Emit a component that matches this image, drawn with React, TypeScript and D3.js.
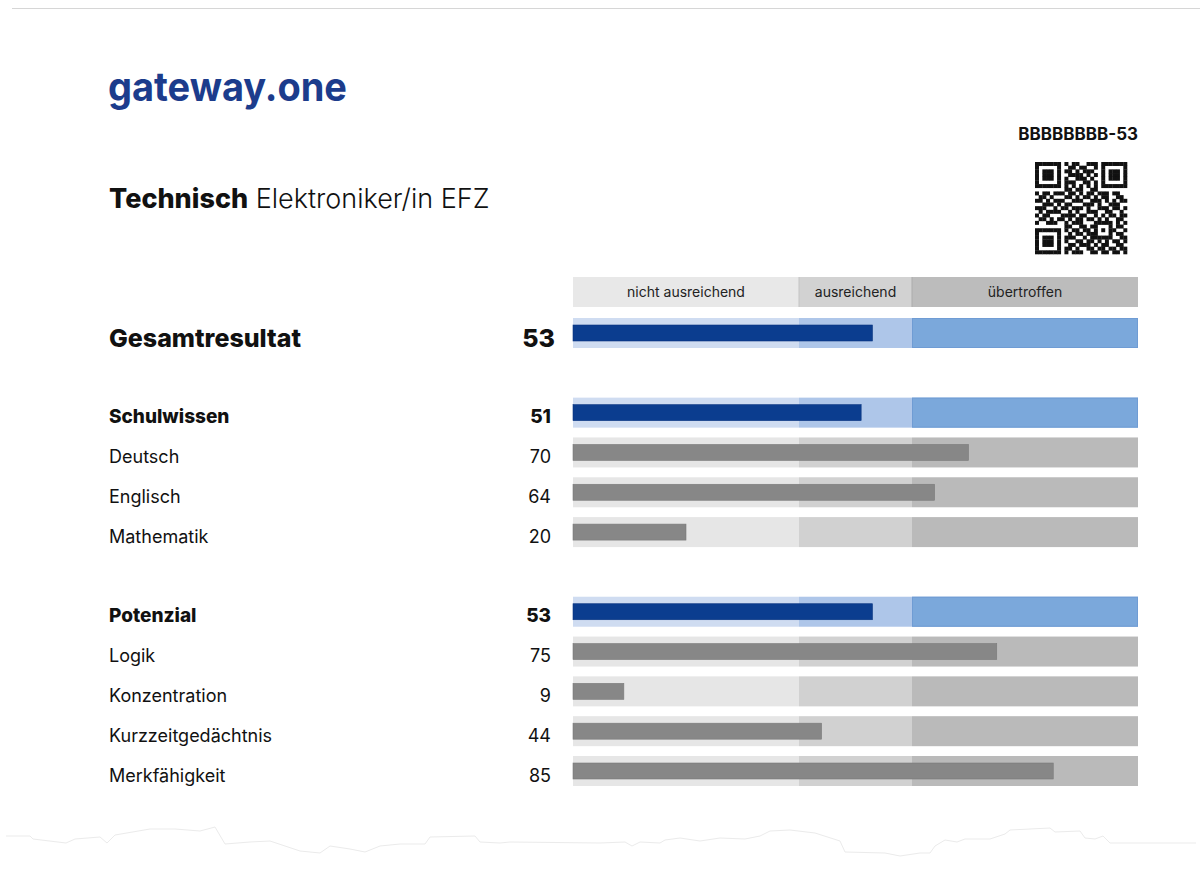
import React from "react";
import * as d3 from "d3";

const categories = ["Gesamtresultat", "Schulwissen", "Deutsch", "Englisch", "Mathematik", "Potenzial", "Logik", "Konzentration", "Kurzzeitgedächtnis", "Merkfähigkeit"];
const values = [53, 51, 70, 64, 20, 53, 75, 9, 44, 85];
const levels = ["total", "group", "item", "item", "item", "group", "item", "item", "item", "item"];
const slots = [0, 2, 3, 4, 5, 7, 8, 9, 10, 11];
const bandLabels = ["nicht ausreichend", "ausreichend", "übertroffen"];
const bandEdges = [0, 40, 60, 100];
const qrRows = [
  "1111111010110011101111111",
  "1000001001101100101000001",
  "1011101011010111001011101",
  "1011101001111010101011101",
  "1011101010011101001011101",
  "1000001011100110101000001",
  "1111111010101010101111111",
  "0000000011011001100000000",
  "1011011101101011011101100",
  "0110100011010110101100110",
  "1101011100111001110101011",
  "0011101011000111010011100",
  "1110010110111010011101101",
  "0101111001010011100110010",
  "1011000111101100101011011",
  "0110101101011011010100110",
  "1001110010111000111110101",
  "0000000011001101100010110",
  "1111111010110110101011001",
  "1000001001011011100010110",
  "1011101011100101111110011",
  "1011101010011011010101101",
  "1011101001101110101100110",
  "1000001011010011011011011",
  "1111111010111001101101101",
];
const tornX = [6, 30, 33, 66, 75, 100, 107, 115, 150, 175, 200, 215, 225, 250, 270, 300, 320, 330, 350, 365, 380, 400, 425, 430, 475, 480, 500, 510, 600, 625, 632, 640, 660, 665, 680, 700, 720, 745, 760, 770, 790, 815, 840, 845, 885, 900, 920, 930, 935, 945, 957, 965, 990, 1005, 1010, 1050, 1055, 1080, 1085, 1095, 1103, 1110, 1138, 1196];
const tornY = [836, 836, 839, 843, 839, 837, 843, 835, 829, 829, 831, 827, 844, 842, 841, 851, 853, 846, 849, 852, 846, 844, 844, 837, 836, 842, 843, 842, 843, 842, 846, 842, 843, 840, 838, 841, 838, 839, 836, 831, 830, 833, 841, 852, 853, 856, 853, 853, 846, 840, 842, 839, 839, 834, 830, 828, 832, 831, 838, 839, 836, 843, 843, 843];

const FONT = "Inter, 'Liberation Sans', sans-serif";

export default function App() {
  const x = d3.scaleLinear().domain([0, 100]).range([573, 1138]);
  const y = d3.scaleLinear().domain([0, 11]).range([318, 756]);
  const bandH = 30;
  const barH = 16;
  const greyBands = ["#e6e6e6", "#d1d1d1", "#bababa"];
  const blueBands = ["#cfdcf1", "#aec6e9", "#7ba8db"];
  const headerBands = ["#e8e8e8", "#d2d2d2", "#bcbcbc"];

  const qrX = d3.scaleLinear().domain([0, 25]).range([1035, 1127]);
  const qrY = d3.scaleLinear().domain([0, 25]).range([162, 254]);

  const torn = d3.line<number>().x((_, i) => tornX[i]).y((d) => d).curve(d3.curveLinear)(tornY) || "";

  return (
    <svg width={1200} height={872} style={{ position: "absolute", left: 0, top: 0, background: "#fff" }} fontFamily={FONT}>
      <line x1={12} x2={1200} y1={8.5} y2={8.5} stroke="#d6d6d6" strokeWidth={1} />
      <text x={108} y={101} fontSize={40} fontWeight={700} fill="#1c3c8c" textLength={239} lengthAdjust="spacingAndGlyphs">gateway.one</text>
      <text x={1138} y={140} fontSize={17} fontWeight={700} fill="#111" textAnchor="end">BBBBBBBB-53</text>
      {qrRows.map((row, r) =>
        row.split("").map((c, k) =>
          c === "1" ? (
            <rect key={`q${r}-${k}`} x={qrX(k)} y={qrY(r)} width={qrX(k + 1) - qrX(k) + 0.3} height={qrY(r + 1) - qrY(r) + 0.3} fill="#111" />
          ) : null
        )
      )}
      <text x={109} y={208} fontSize={27} fill="#111">
        <tspan fontWeight={800}>Technisch</tspan>
        <tspan fontWeight={300}> Elektroniker/in EFZ</tspan>
      </text>

      {bandLabels.map((lab, i) => (
        <g key={lab}>
          <rect x={x(bandEdges[i])} y={277} width={x(bandEdges[i + 1]) - x(bandEdges[i])} height={bandH} fill={headerBands[i]} />
          <text x={(x(bandEdges[i]) + x(bandEdges[i + 1])) / 2} y={297} fontSize={14} fill="#222" textAnchor="middle">{lab}</text>
        </g>
      ))}
      <line x1={x(40)} x2={x(40)} y1={277} y2={307} stroke="#c4c4c4" />
      <line x1={x(60)} x2={x(60)} y1={277} y2={307} stroke="#acacac" />

      {categories.map((cat, i) => {
        const top = y(slots[i]);
        const lvl = levels[i];
        const blue = lvl !== "item";
        const bands = blue ? blueBands : greyBands;
        const fs = lvl === "total" ? 25 : lvl === "group" ? 19 : 18;
        const fw = lvl === "item" ? 400 : 800;
        const base = top + bandH / 2 + (lvl === "total" ? 14 : 10.5);
        return (
          <g key={cat}>
            {bands.map((c, b) => (
              <rect key={b} x={x(bandEdges[b])} y={top} width={x(bandEdges[b + 1]) - x(bandEdges[b])} height={bandH} fill={c} />
            ))}
            {blue && <rect x={x(60) + 0.5} y={top + 0.5} width={x(100) - x(60) - 1} height={bandH - 1} fill="none" stroke="#6f9cd4" strokeWidth={1} />}
            <rect x={x(0)} y={top + (bandH - barH) / 2} width={x(values[i]) - x(0)} height={barH} fill={blue ? "#0b3d8f" : "#878787"} stroke={blue ? "#0a3580" : "#7b7b7b"} strokeWidth={0.6} />
            <text x={109} y={base} fontSize={fs} fontWeight={fw} fill="#111">{cat}</text>
            <text x={lvl === "total" ? 555 : 551} y={base} fontSize={fs} fontWeight={fw} fill="#111" textAnchor="end">{values[i]}</text>
          </g>
        );
      })}

      <path d={torn} fill="none" stroke="#ebebeb" strokeWidth={1} />
    </svg>
  );
}
